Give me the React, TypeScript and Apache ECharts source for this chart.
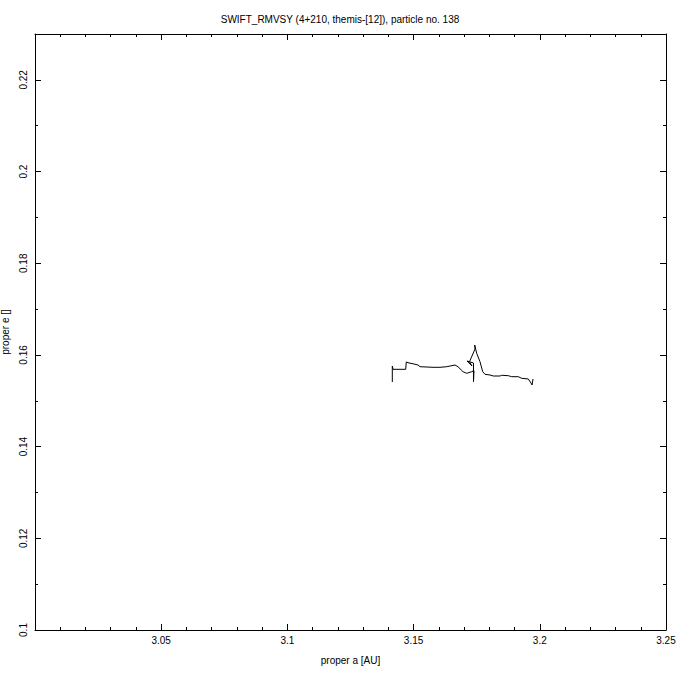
import React, { useEffect, useRef } from "react";
import * as echarts from "echarts";

const titleText = "SWIFT_RMVSY (4+210, themis-[12]), particle no. 138";
const xName = "proper a [AU]";
const yName = "proper e []";

const properA = [
  3.14156, 3.14156, 3.14184, 3.14687, 3.14711, 3.14778, 3.15016, 3.15174, 3.15254, 3.15769,
  3.16046, 3.16311, 3.1664, 3.16759, 3.16957, 3.17104, 3.17302, 3.17393, 3.17373, 3.17373,
  3.17116, 3.17314, 3.17215, 3.17433, 3.17421, 3.175, 3.17631, 3.17738, 3.17829, 3.18027,
  3.18158, 3.18423, 3.1849, 3.18752, 3.18887, 3.19148, 3.19283, 3.19544, 3.19651, 3.19691,
  3.19731,
];
const properE = [
  0.15409, 0.15758, 0.15686, 0.15686, 0.15846, 0.1583, 0.15802, 0.1578, 0.15743, 0.1573,
  0.1573, 0.15743, 0.1578, 0.15743, 0.15634, 0.15599, 0.15634, 0.15656, 0.15416, 0.15824,
  0.15868, 0.15758, 0.15852, 0.16129, 0.16216, 0.16035, 0.15852, 0.15634, 0.15577, 0.15562,
  0.1554, 0.1554, 0.15556, 0.15547, 0.15525, 0.15525, 0.1549, 0.15475, 0.15388, 0.15344,
  0.15475,
];

const FONT = "Liberation Sans";

export default function App() {
  const ref = useRef<HTMLDivElement>(null);
  useEffect(() => {
    if (!ref.current) return;
    const chart = echarts.init(ref.current, null, { renderer: "svg" });
    const data = properA.map((a, i) => [a, properE[i]]);
    const axisLine = { show: true, lineStyle: { color: "#000", width: 1 } };
    const tick = { show: true, inside: true, length: 6, lineStyle: { color: "#000" } };
    const minor = { show: true, length: 3, lineStyle: { color: "#000" } };
    chart.setOption({
      animation: false,
      backgroundColor: "#fff",
      title: {
        text: titleText,
        left: "center",
        top: 9,
        textStyle: { fontFamily: FONT, fontSize: 10, fontWeight: "normal", color: "#000" },
      },
      grid: { left: 35, right: 14, top: 34, bottom: 50, containLabel: false, outerBoundsMode: "none" },
      xAxis: [
        {
          type: "value",
          min: 3.0,
          max: 3.25,
          interval: 0.05,
          position: "bottom",
          axisLine,
          axisTick: tick,
          minorTick: { ...minor, splitNumber: 5 },
          splitLine: { show: false },
          axisLabel: {
            margin: 5,
            color: "#000",
            fontFamily: FONT,
            fontSize: 10,
            formatter: (v: number) => (Math.abs(v - 3.0) < 1e-9 ? "" : String(+v.toFixed(2))),
          },
          name: xName,
          nameLocation: "middle",
          nameGap: 25,
          nameTextStyle: { color: "#000", fontFamily: FONT, fontSize: 10 },
        },
        {
          type: "value",
          min: 3.0,
          max: 3.25,
          interval: 0.05,
          position: "top",
          axisLine,
          axisTick: tick,
          minorTick: { ...minor, splitNumber: 5 },
          splitLine: { show: false },
          axisLabel: { show: false },
        },
      ],
      yAxis: [
        {
          type: "value",
          min: 0.1,
          max: 0.23,
          interval: 0.02,
          position: "left",
          axisLine,
          axisTick: tick,
          minorTick: { ...minor, splitNumber: 2 },
          splitLine: { show: false },
          axisLabel: {
            rotate: 90,
            margin: 7,
            color: "#000",
            fontFamily: FONT,
            fontSize: 10,
            formatter: (v: number) => (Math.abs(v - 0.23) < 1e-9 ? "" : String(+v.toFixed(2))),
          },
          name: yName,
          nameLocation: "middle",
          nameRotate: 90,
          nameGap: 24,
          nameTextStyle: { color: "#000", fontFamily: FONT, fontSize: 10 },
        },
        {
          type: "value",
          min: 0.1,
          max: 0.23,
          interval: 0.02,
          position: "right",
          axisLine,
          axisTick: tick,
          minorTick: { ...minor, splitNumber: 2 },
          splitLine: { show: false },
          axisLabel: { show: false },
        },
      ],
      series: [
        {
          type: "line",
          data,
          xAxisIndex: 0,
          yAxisIndex: 0,
          showSymbol: false,
          symbol: "none",
          smooth: false,
          lineStyle: { color: "#000", width: 1 },
          silent: true,
        },
      ],
    });
    return () => chart.dispose();
  }, []);
  return (
    <div
      ref={ref}
      style={{ width: 680, height: 680, position: "absolute", left: 0, top: 0 }}
    />
  );
}
